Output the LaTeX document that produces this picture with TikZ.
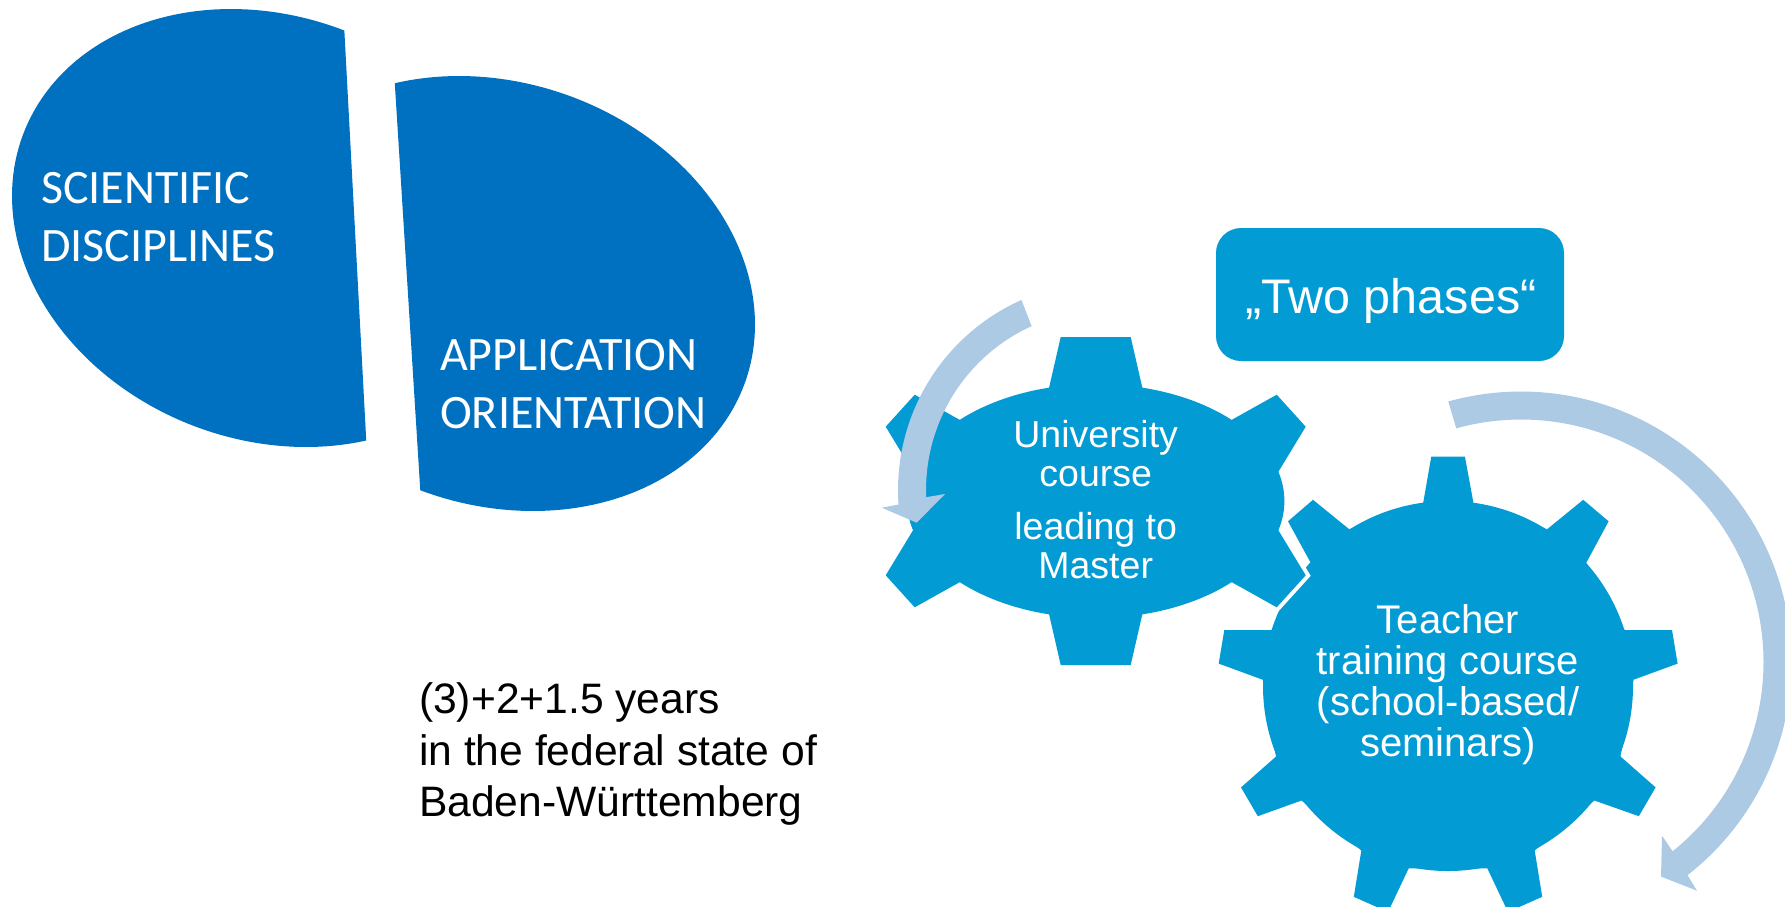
\documentclass[tikz,border=0pt]{standalone}
\usepackage{fontspec}
\setmainfont{Liberation Sans}
\newfontfamily\calib{Carlito}
\definecolor{deepblue}{HTML}{0070C0}
\definecolor{gearblue}{HTML}{029BD3}
\definecolor{arrowblue}{HTML}{ADCAE5}
\tikzset{
  lobe/.style={fill=deepblue},
  geartext/.style={text=white,align=center,inner sep=0pt},
  lobetext/.style={text=white,align=left,inner sep=0pt,anchor=west,font=\calib\fontsize{48}{58}\selectfont},
  turn/.style={fill=arrowblue},
  gearfill/.style={fill=gearblue},
}
\begin{document}
\begin{tikzpicture}[x=1pt,y=-1pt]
\useasboundingbox (0,0) rectangle (1785,906);
\clip (0,0) rectangle (1785,906);
% lobes
\fill[lobe] plot[domain=-72.8:-292.4,samples=120] ({268.5+256.5*cos(\x)},{228+219*sin(\x+8.4)}) -- cycle;
\fill[lobe] plot[domain=-113:107,samples=120] ({496+259*cos(\x)},{293.5+217.5*sin(\x+8.2)}) -- cycle;
\node[lobetext] (sci) at (41,217) {SCIENTIFIC\\DISCIPLINES};
\node[lobetext] (app) at (440,384) {APPLICATION\\ORIENTATION};
% teacher gear
\coordinate (cb) at (1448,686);
\fill[gearfill] (cb) circle[radius=185pt];
\fill[gearfill] (1423.1,503.2)--(1431.3,456.5)--(1464.9,456.5)--(1473.5,503.2)
 --(1547,529.3)--(1583.2,499.8)--(1608.6,521.3)--(1586.2,562.9)
 --(1624.6,630)--(1672,630)--(1677.6,663.6)--(1633.6,679.7)
 --(1620.5,756.5)--(1655.6,787.4)--(1638.8,816.2)--(1594.4,800.5)
 --(1534.7,850.5)--(1542.2,896.8)--(1508,912)--(1487.3,868.3)
 --(1408.7,868.3)--(1388,912)--(1353.8,896.8)--(1361.3,850.5)
 --(1301.5,800.5)--(1257.8,816.2)--(1241,787.4)--(1276,756.5)
 --(1262.7,679.7)--(1218.7,663.6)--(1224.3,630)--(1271.6,630)
 --(1310.8,563)--(1288,521.3)--(1313,499.8)--(1349.3,529.3)--cycle;
% university gear
\path[gearfill,preaction={draw=white,line width=8pt,line join=miter},shift={(1095.7,501)}]
 (-35,-164)--(35,-164)--
 plot[domain=-75.7:-43.9,samples=16] ({188.7*cos(\x)},{117*sin(\x)})
 --(181,-106.3)--(210,-74.3)--
 plot[domain=-14.5:14.5,samples=16] ({188.7*cos(\x)},{117*sin(\x)})
 --(210,74.3)--(181,106.3)--
 plot[domain=43.9:75.7,samples=16] ({188.7*cos(\x)},{117*sin(\x)})
 --(35,164)--(-35,164)--
 plot[domain=104.3:136.1,samples=16] ({188.7*cos(\x)},{117*sin(\x)})
 --(-181,106.3)--(-210,74.3)--
 plot[domain=165.5:194.5,samples=16] ({188.7*cos(\x)},{117*sin(\x)})
 --(-210,-74.3)--(-181,-106.3)--
 plot[domain=223.9:255.7,samples=16] ({188.7*cos(\x)},{117*sin(\x)})
 --cycle;
% box
\node[fill=gearblue,rounded corners=25pt,minimum width=348pt,minimum height=133pt,inner sep=0pt] (phases) at (1390,294.5) {};
\node[inner sep=0pt,text=white,font=\fontsize{48.5}{50}\selectfont] (phasestext) at (1391,300.5) {„Two phases“};
% gear labels
\node[geartext,font=\fontsize{37.5}{39}\selectfont] (uni) at (1095.7,499.6) {University\\course\\[14pt]leading to\\Master};
\node[geartext,font=\fontsize{40}{41}\selectfont] (tea) at (1448,685) {Teacher\\training course\\(school-based/\\seminars)};
% caption
\node[inner sep=0pt,align=left,font=\fontsize{42.6}{51.5}\selectfont] (cap) at (618,754) {(3)+2+1.5 years\\in the federal state of\\Baden-Württemberg};
% arrows
\fill[turn] plot[domain=-114:-184,samples=60] ({1106+208*cos(\x)},{490+208*sin(\x)})
 --(881.7,507.7)--(916.7,522.7)--(945,494)--
 plot[domain=-182.3:-114.4,samples=60] ({1106+180*cos(\x)},{490+180*sin(\x)}) -- cycle;
\fill[turn] plot[domain=-105.6:52,samples=120] ({1521+270.5*cos(\x)},{662+270.5*sin(\x)})
 --(1697,890.7)--(1661,876.6)--(1662,835.7)--
 plot[domain=51.3:-105.5,samples=120] ({1521+242.5*cos(\x)},{662+242.5*sin(\x)}) -- cycle;
\end{tikzpicture}
\end{document}
